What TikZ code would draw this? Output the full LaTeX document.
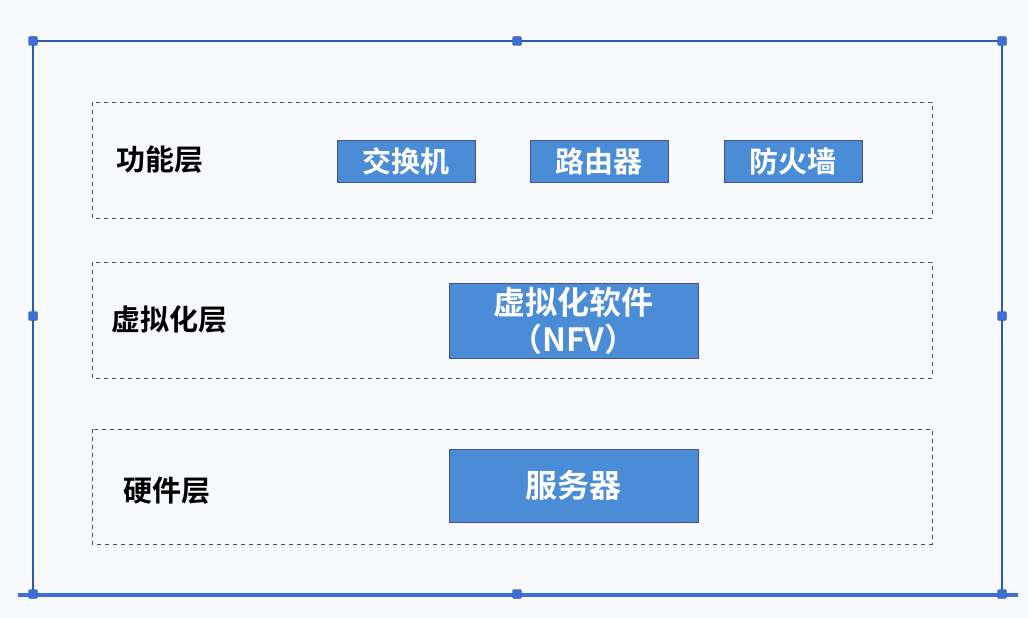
\documentclass[tikz,border=0pt]{standalone}
\usepackage{fontspec}
\newfontfamily\cjk{Noto Sans CJK SC}
\newfontfamily\cjkb{Noto Sans CJK SC Bold}
\begin{document}
\begin{tikzpicture}[x=1pt,y=-1pt,
  layer/.style={draw=black!70,dashed,dash pattern=on 4pt off 4pt,line width=0.7pt},
  func/.style={draw=blue!40!black!70,fill=boxblue,line width=0.6pt,text=white,font=\cjkb\fontsize{29}{30}\selectfont,inner sep=0pt,align=center},
  big/.style={font=\cjkb\fontsize{32}{34}\selectfont},
  lbl/.style={font=\cjkb\fontsize{29}{30}\selectfont,text=black,inner sep=0pt},
  handle/.style={fill=selblue,draw=selblue!70!black,rounded corners=1.5pt,minimum size=9pt,inner sep=0pt}]
\definecolor{boxblue}{HTML}{4A8CD6}
\definecolor{selblue}{HTML}{3D6FD6}
\definecolor{bg}{HTML}{F8F9FC}
\useasboundingbox (0,0) rectangle (1028,618);
\fill[bg] (0,0) rectangle (1028,618);
% selection frame
\coordinate (tl) at (33,41);
\coordinate (tr) at (1002,41);
\coordinate (br) at (1002,594);
\coordinate (bl) at (33,594);
\draw[selblue!80!black,line width=1.3pt] (tl) -- (tr) -- (br);
\draw[selblue!80!black,line width=1.3pt] (tl) -- (bl);
\coordinate (bll) at (18,595);
\coordinate (brr) at (1018,595);
\draw[selblue,line width=4pt] (bll) -- (brr);
\node[handle] (h1) at (tl) {};
\node[handle] (h2) at (517,41) {};
\node[handle] (h3) at (tr) {};
\node[handle] (h4) at (33,316) {};
\node[handle] (h5) at (1002,316) {};
\node[handle] (h6) at (bl) {};
\node[handle] (h7) at (517,594) {};
\node[handle] (h8) at (br) {};
% layers
\draw[layer] (92,102) rectangle (932,218);
\draw[layer] (92,262) rectangle (932,378);
\draw[layer] (92,429) rectangle (932,544);
\node[lbl] (l1) at (160,160) {功能层};
\node[lbl] (l2) at (169,320) {虚拟化层};
\node[lbl] (l3) at (167,491) {硬件层};
% boxes
\node[func,minimum width=138pt,minimum height=42pt] (sw) at (406,161) {交换机};
\node[func,minimum width=138pt,minimum height=42pt] (rt) at (599,161) {路由器};
\node[func,minimum width=138pt,minimum height=42pt] (fw) at (793,161) {防火墙};
\node[func,big,minimum width=249pt,minimum height=75pt] (nfv) at (573.5,320.5) {虚拟化软件\\[3pt]（NFV）};
\node[func,big,minimum width=249pt,minimum height=73pt] (srv) at (573.5,485.5) {服务器};
\end{tikzpicture}
\end{document}
